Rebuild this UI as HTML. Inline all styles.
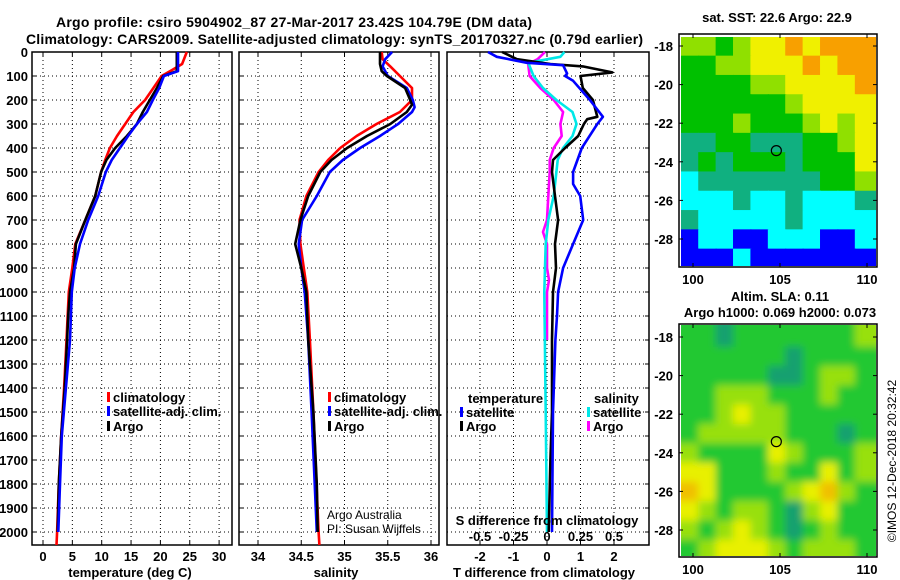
<!DOCTYPE html>
<html><head><meta charset="utf-8">
<style>
html,body{margin:0;padding:0;background:#fff;}
svg{display:block;font-family:"Liberation Sans",sans-serif;}
.b{font-weight:bold;font-size:13px;}
.n{font-weight:normal;font-size:12px;}
.t{font-weight:bold;font-size:14px;}
</style></head>
<body>
<svg id="fig" width="900" height="580" viewBox="0 0 900 580" xmlns="http://www.w3.org/2000/svg">
<defs>
<clipPath id="clipT"><rect x="32" y="35" width="200" height="510"/></clipPath>
<clipPath id="clipS"><rect x="239" y="35" width="200" height="510"/></clipPath>
<clipPath id="clipD"><rect x="447" y="35" width="202" height="510"/></clipPath>
<clipPath id="clipM1"><rect x="681" y="37" width="195" height="229"/></clipPath>
<clipPath id="clipM2"><rect x="681" y="325" width="195" height="231"/></clipPath>
<filter id="blur" x="-10%" y="-10%" width="120%" height="120%"><feGaussianBlur stdDeviation="4"/></filter>
</defs>
<text class="t" x="56" y="27" textLength="476">Argo profile: csiro 5904902_87 27-Mar-2017 23.42S 104.79E (DM data)</text>
<text class="t" x="26" y="44" textLength="617">Climatology: CARS2009. Satellite-adjusted climatology: synTS_20170327.nc (0.79d earlier)</text>
<g id="layer"></g>
</svg>
<script>
// ---------- data ----------
const depthT = [0,50,80,100,150,200,250,300,350,400,450,500,600,700,800,900,1000,1100,1200,1400,1600,1800,2000];
const tempArgo = [22.8,22.8,22.8,20.5,19.4,18.2,17,16,14.3,12.3,10.8,9.9,8.9,7.2,5.6,5.3,4.6,4.3,4.1,3.7,3.1,2.7,2.5];
const depthTc = [0,50,75,100,150,200,250,300,350,400,450,500,600,700,800,900,1000,1200,1400,1600,1800,2000,2054];
const tempClim = [24.5,23.7,22,20.2,18.8,17.4,15.4,14,12.6,11.4,10.6,9.9,8.9,7.2,5.5,5.0,4.4,4.0,3.6,3.1,2.7,2.4,2.3];
const depthTs = [0,80,100,150,200,250,300,350,400,450,500,600,700,800,900,1000,1200,1400,1600,1800,2000];
const tempSat = [23,23,20.6,19.8,18.7,17.7,16,14.5,13.1,11.7,10.7,9.4,7.7,6.3,5.4,4.9,4.6,3.9,3.2,2.9,2.6];

const depthS = [0,50,80,100,150,200,220,250,300,350,400,450,500,600,700,800,900,1000,1200,1500,1800,2000];
const salArgo = [35.41,35.41,35.43,35.49,35.70,35.76,35.78,35.72,35.53,35.26,35.03,34.85,34.72,34.58,34.49,34.43,34.5,34.56,34.58,34.64,34.68,34.69];
const depthSc = [0,30,60,100,150,200,250,300,350,400,450,500,600,700,800,900,1000,1200,1500,2000,2054];
const salClim = [35.43,35.44,35.53,35.64,35.78,35.78,35.64,35.37,35.14,34.95,34.81,34.7,34.56,34.48,34.49,34.53,34.57,34.6,34.64,34.7,34.71];
const depthSs = [0,30,60,100,150,200,230,250,300,350,400,450,500,600,700,800,900,1000,1200,1500,2000];
const salSat = [35.55,35.47,35.44,35.5,35.72,35.79,35.81,35.78,35.62,35.41,35.18,34.98,34.83,34.68,34.51,34.47,34.5,34.54,34.58,34.62,34.68];

const depthD1 = [0,20,45,55,90,100,120,200,270,300,400,500,550,600,700,800,900,1000,1100,1200,1500,2000];
const tDiffSat = [-1.76,-1.5,-0.6,0.48,0.6,0.54,0.78,1.28,1.67,1.5,1.04,0.78,0.78,0.99,1.08,0.78,0.48,0.33,0.3,0.25,0.18,0.15];
const depthD2 = [0,30,50,60,85,100,150,200,270,280,300,350,400,450,500,600,700,800,900,1000,1200,1500,1700,2000];
const tDiffArgo = [-1.34,-0.9,0.1,1.07,1.95,1.0,1.07,1.37,1.5,1.2,1.1,0.93,0.54,0.18,0.15,0.24,0.33,0.24,0.27,0.18,0.15,0.15,0.1,0.05];
const depthD3 = [0,20,45,100,150,200,250,300,350,400,450,500,600,700,800,900,1000,1500,2000];
const sDiffSat = [0.13,0.1,-0.14,-0.1,-0.03,0.07,0.19,0.22,0.19,0.12,0.08,0.07,0.05,0.01,-0.01,-0.015,-0.02,-0.01,0];
const depthD4 = [0,30,50,100,150,200,250,300,350,400,450,500,600,700,750,800,900,950,1000,1100,1200];
const sDiffArgo = [-0.015,-0.07,-0.14,-0.13,-0.05,0.05,0.12,0.1,0.11,0.05,0.02,0.02,0.01,0,-0.03,0,0,0.015,0,0,0];

const depthTicks = [0,100,200,300,400,500,600,700,800,900,1000,1100,1200,1300,1400,1500,1600,1700,1800,1900,2000];
const tempTicks = [0,5,10,15,20,25,30];
const salTicks = [34,34.5,35,35.5,36];
const salTickLabels = ["34","34.5","35","35.5","36"];
const tdTicks = [-2,-1,0,1,2];
const sdTicks = [-0.5,-0.25,0,0.25,0.5];
const sdTickLabels = ["-0.5","-0.25","0","0.25","0.5"];
const latTicks = [-18,-20,-22,-24,-26,-28];
const lonTicks = [100,105,110];
const argoLon = 104.79, argoLat = -23.42;

const sstColors = ["#0000ff","#00ffff","#10b080","#00c000","#90e000","#f0f000","#f8a000","#ff0000"];
const sstGrid = [
[4,4,3,4,5,5,6,5,6,6,6],
[3,3,4,4,5,5,5,6,5,6,6],
[3,3,3,3,4,4,5,5,5,5,6],
[3,3,3,3,3,3,4,5,5,5,5],
[3,3,3,4,3,3,3,4,5,4,5],
[2,2,3,3,2,2,2,3,3,4,5],
[2,3,2,3,3,3,2,3,3,3,5],
[1,2,2,2,2,2,2,2,3,3,4],
[1,1,1,2,1,1,2,1,1,1,2],
[2,1,1,1,1,1,2,1,1,1,1],
[0,1,1,0,0,1,1,1,0,0,1],
[0,0,0,1,0,0,0,0,0,0,0]];
const slaColors = ["#18a070","#20c830","#98e010","#e8f000","#f0c000"];
const slaGrid = [
[1,1,0,1,1,1,1,1,1,1,2],
[1,1,1,1,1,1,0,1,1,1,1],
[1,1,1,1,1,0,0,1,2,2,1],
[1,1,2,2,2,1,1,1,2,1,1],
[1,1,2,3,2,2,1,1,1,1,1],
[1,2,2,2,2,2,1,1,1,0,1],
[2,1,1,1,1,3,2,1,1,1,2],
[3,3,1,1,1,2,1,1,3,1,2],
[4,3,1,1,1,1,2,3,4,2,1],
[3,2,1,2,2,1,0,2,3,1,1],
[2,1,2,3,2,1,0,1,2,1,1],
[1,2,3,3,3,2,1,2,2,2,1]];

// ---------- helpers ----------
const NS = "http://www.w3.org/2000/svg";
const layer = document.getElementById('layer');
function mk(tag, attrs, parent){
  const e = document.createElementNS(NS, tag);
  for (const k in attrs) e.setAttribute(k, attrs[k]);
  (parent||layer).appendChild(e);
  return e;
}
const yD = d => 52 + d*0.24;
const xT = v => 43 + v*5.87;
const xS = v => 258 + (v-34)*86.5;
const xTD = v => 547 + v*33.5;
const xSD = v => 547 + v*134;
const mLon = v => 693 + (v-100)*17.4;
const m1Lat = v => 46 + (-18 - v)*19.3;
const m2Lat = v => 337 + (-18 - v)*19.3;

function line(xs, ds, xf, color, w, clip, name){
  let p = xs.map((v,i)=>(i?'L':'M')+xf(v).toFixed(1)+','+yD(ds[i]).toFixed(1)).join(' ');
  const e = mk('path',{d:p,fill:'none',stroke:color,'stroke-width':w,'stroke-linejoin':'round','clip-path':'url(#'+clip+')'});
  
  
}
function txt(x,y,s,cls,anchor,name,extra){
  const e = mk('text',Object.assign({x:x,y:y,class:cls,'text-anchor':anchor||'start'},extra||{}));
  e.textContent = s;
  
  
  return e;
}
function panel(x0,x1,xticks,xf,labels,name,leftLabels,rightTicks){
  const g = mk('g',{});
  
  
  depthTicks.forEach(d=>{
    mk('line',{x1:x0,x2:x1,y1:yD(d),y2:yD(d),stroke:'#000','stroke-width':1,'stroke-dasharray':'1,3'},g);
    if(rightTicks) mk('line',{x1:x1-4,x2:x1,y1:yD(d),y2:yD(d),stroke:'#000'},g);
    else mk('line',{x1:x0,x2:x0+4,y1:yD(d),y2:yD(d),stroke:'#000'},g);
    if(leftLabels) txt(28,yD(d)+5,String(d),'b','end','depth-tick-label');
  });
  xticks.forEach((v,i)=>{
    const x = xf(v);
    mk('line',{x1:x,x2:x,y1:52,y2:545,stroke:'#000','stroke-width':1,'stroke-dasharray':'1,3'},g);
    mk('line',{x1:x,x2:x,y1:541,y2:545,stroke:'#000'},g);
    mk('line',{x1:x,x2:x,y1:52,y2:56,stroke:'#000'},g);
    if(labels) txt(x,561,labels[i],'b','middle','x-tick-label');
  });
  mk('rect',{x:x0,y:52,width:x1-x0,height:493,fill:'none',stroke:'#000','stroke-width':1.5},g);
}

// ---------- panels ----------
panel(32,232,tempTicks,xT,tempTicks.map(String),'temperature-panel',true,false);
panel(239,439,salTicks,xS,salTickLabels,'salinity-panel',false,false);
panel(447,649,tdTicks,xTD,tdTicks.map(String),'difference-panel',false,true);

line(tempClim,depthTc,xT,'#ff0000',2.6,'clipT','temp-climatology-line');
line(tempArgo,depthT,xT,'#000000',2.6,'clipT','temp-argo-line');
line(tempSat,depthTs,xT,'#0000ff',2.6,'clipT','temp-satellite-line');
line(salClim,depthSc,xS,'#ff0000',2.6,'clipS','sal-climatology-line');
line(salSat,depthSs,xS,'#0000ff',2.6,'clipS','sal-satellite-line');
line(salArgo,depthS,xS,'#000000',2.6,'clipS','sal-argo-line');
line(sDiffArgo,depthD4,xSD,'#ff00ff',2.6,'clipD','sdiff-argo-line');
line(sDiffSat,depthD3,xSD,'#00e8e8',2.6,'clipD','sdiff-satellite-line');
line(tDiffArgo,depthD2,xTD,'#000000',2.6,'clipD','tdiff-argo-line');
line(tDiffSat,depthD1,xTD,'#0000ff',2.6,'clipD','tdiff-satellite-line');

txt(130,577,'temperature (deg C)','b','middle','temperature-axis-title');
txt(336,577,'salinity','b','middle','salinity-axis-title');
txt(544,577,'T difference from climatology','b','middle','tdiff-axis-title');
txt(547,525,'S difference from climatology','b','middle','sdiff-axis-title');
sdTicks.forEach((v,i)=>txt(xSD(v),541,sdTickLabels[i],'b','middle','sdiff-tick-label'));

// legends
function leg(x,y,color,label,name){
  const r = mk('rect',{x:x,y:y-10,width:3,height:10,fill:color});
  
  
  txt(x+6,y,label,'b','start',name);
}
leg(107,402,'#ff0000','climatology','legend-climatology');
leg(107,416,'#0000ff','satellite-adj. clim.','legend-satellite');
leg(107,431,'#000000','Argo','legend-argo');
leg(328,402,'#ff0000','climatology','legend2-climatology');
leg(328,416,'#0000ff','satellite-adj. clim.','legend2-satellite');
leg(328,431,'#000000','Argo','legend2-argo');
txt(468,403,'temperature','b','start','legend-temperature-heading');
leg(460,417,'#0000ff','satellite','legend-t-satellite');
leg(460,431,'#000000','Argo','legend-t-argo');
txt(594,403,'salinity','b','start','legend-salinity-heading');
leg(587,417,'#00e8e8','satellite','legend-s-satellite');
leg(587,431,'#ff00ff','Argo','legend-s-argo');
txt(327,519,'Argo Australia','n','start','credit-line-1');
txt(327,533,'PI: Susan Wijffels','n','start','credit-line-2');

// ---------- maps ----------
function map(grid,colors,latf,clip,top,bottom,name,blur){
  const g = mk('g',{'clip-path':'url(#'+clip+')'});
  
  
  const inner = mk('g',blur?{filter:'url(#blur)'}:{},g);
  grid.forEach((row,r)=>row.forEach((c,k)=>{
    const lon0 = 99.3 + k, lat0 = -17.5 - r;
    const x = mLon(lon0), y = latf(lat0);
    const cell = mk('rect',{x:x-(k==0?10:0),y:y-(r==0?10:0),width:mLon(lon0+1)-x+1+(k==0||k==row.length-1?10:0),height:latf(lat0-1)-y+1+(r==0||r==grid.length-1?10:0),fill:colors[c]},inner);
    
    
  }));
  const m = mk('circle',{cx:mLon(argoLon),cy:latf(argoLat),r:5,fill:'none',stroke:'#000','stroke-width':1.2},g);
  
  
  mk('rect',{x:679,y:top,width:198,height:bottom-top,fill:'none',stroke:'#000','stroke-width':1.5});
  latTicks.forEach(v=>{
    const y = latf(v);
    mk('line',{x1:679,x2:683,y1:y,y2:y,stroke:'#000'});
    mk('line',{x1:873,x2:877,y1:y,y2:y,stroke:'#000'});
    txt(673,y+5,String(v),'b','end','lat-tick-label');
  });
  lonTicks.forEach(v=>{
    const x = mLon(v);
    mk('line',{x1:x,x2:x,y1:top,y2:top+4,stroke:'#000'});
    mk('line',{x1:x,x2:x,y1:bottom-4,y2:bottom,stroke:'#000'});
    txt(x,bottom+17,String(v),'b','middle','lon-tick-label');
  });
}
map(sstGrid,sstColors,m1Lat,'clipM1',34,267,'sst-map',false);
map(slaGrid,slaColors,m2Lat,'clipM2',324,557,'sla-map',true);
txt(777,22,'sat. SST: 22.6 Argo: 22.9','b','middle','sst-map-title');
txt(780,301,'Altim. SLA: 0.11','b','middle','sla-map-title');
txt(780,317,'Argo h1000: 0.069 h2000: 0.073','b','middle','sla-map-subtitle');
txt(0,0,'©IMOS 12-Dec-2018 20:32:42','n','middle','timestamp',{transform:'translate(896,461) rotate(-90)','font-size':'13'});
</script>
</body></html>
